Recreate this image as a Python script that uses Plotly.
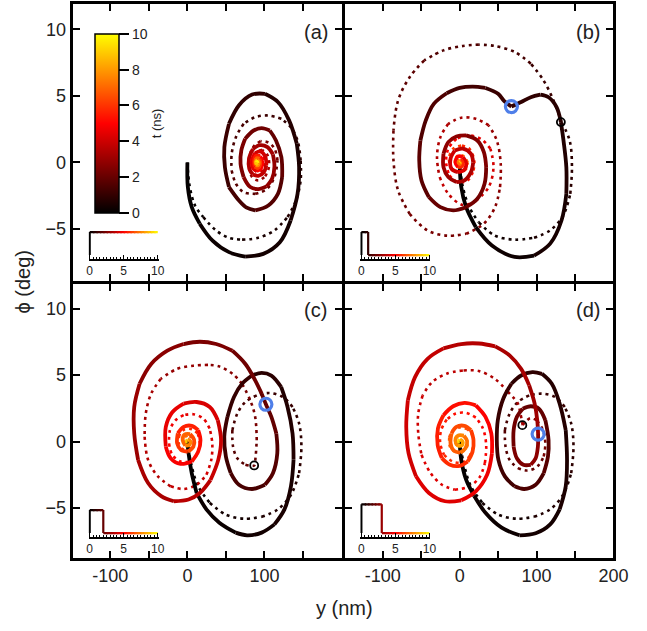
import plotly.graph_objects as go

FONT = "Liberation Sans, Arial, sans-serif"

# ---------------- data (y [nm], phi [deg], t [ns]) ----------------
A_SOLID = [(0,0,0),(0.6,-1.85,0.06),(5.7,-3.36,0.12),(16,-4.6,0.17),(33,-5.9,0.22),(54,-6.74,0.26),(75,-7.07,0.3),
    (98.5,-6.87,0.35),(120,-6.0,0.4),(134,-4.36,0.45),(143,-2.36,0.5),(145,-0.35,0.55),(142,1.4,0.6),(132,3.16,0.67),
    (117.5,4.54,0.75),(100.6,5.16,0.82),(84,5.1,0.9),(67,4.3,0.97),(54,2.9,1.04),(48,1.15,1.11),(48.7,-0.35,1.18),
    (54,-1.85,1.26),(67,-2.86,1.34),(77,-3.4,1.42),(88,-3.6,1.5),(105,-3.23,1.6),(117.5,-2.36,1.7),(123,-1.1,1.8),
    (122,0.4,1.9),(115,1.65,2.0),(107,2.4,2.08),(96.4,2.58,2.16),(86,2.4,2.24),(75,1.78,2.32),(70,0.9,2.4),
    (69,-0.1,2.48),(73,-1.1,2.56),(81.6,-1.85,2.64),(92,-2.0,2.72),(102.7,-1.8,2.8),(110,-1.2,2.88),(113,-0.3,2.96),
    (111,0.6,3.05),(104,1.15,3.15),(94,1.3,3.25),(85,1.0,3.35),(80,0.3,3.45),(80.5,-0.5,3.55),(85,-0.9,3.65),
    (92,-1.0,3.75),(99,-0.75,3.85),(102.5,-0.2,3.95),(101,0.45,4.05),(95,0.82,4.15),(88,0.7,4.3),(84,0.2,4.45),
    (85,-0.4,4.6),(90,-0.65,4.75),(95.5,-0.45,4.9),(97,0.05,5.05),(94.5,0.45,5.2),(89.5,0.5,5.4),(86.5,0.1,5.6),
    (87.5,-0.3,5.8),(91.5,-0.42,6.0),(94.5,-0.1,6.2),(93.5,0.28,6.45),(90,0.32,6.7),(88,0.05,6.95),(89,-0.2,7.2),
    (91.5,-0.22,7.5),(92.5,0.05,7.8),(91,0.18,8.1),(89.2,0.05,8.5),(89.8,-0.1,8.9),(91,-0.05,9.3),(90.5,0.05,9.7),(90,0,10)]
A_DOT = [(0,0,0),(3,-1.8,0.07),(9.9,-3.23,0.13),(20.5,-4.1,0.19),(37,-5.1,0.26),(54,-5.66,0.33),(71,-5.8,0.4),
    (92,-5.66,0.47),(113,-5.1,0.55),(130,-4.1,0.63),(141,-2.86,0.7),(147,-1.35,0.77),(147,0.15,0.84),(143,1.65,0.91),
    (134,2.66,0.99),(122,3.28,1.07),(105,3.53,1.16),(88,3.4,1.25),(73,2.9,1.33),(63,1.9,1.41),(57.5,0.65,1.49),
    (57.5,-0.6,1.57),(63,-1.6,1.65),(73,-2.23,1.74),(88,-2.36,1.84),(103,-2.0,1.94),(113,-1.1,2.04),(117,0.15,2.14),
    (113,1.05,2.24),(105,1.5,2.34),(95,1.6,2.44),(86,1.2,2.55),(80.5,0.45,2.66),(80,-0.4,2.77),(84,-1.1,2.88),
    (92,-1.35,2.99),(101,-1.05,3.1),(106,-0.3,3.21),(104,0.55,3.33),(97,0.95,3.45),(89,0.75,3.58),(85,0.1,3.72),
    (87,-0.55,3.86),(93,-0.75,4.0),(99,-0.4,4.15),(100,0.2,4.3),(96,0.55,4.5),(90,0.4,4.7),(88,-0.05,4.9),
    (91,-0.4,5.15),(96,-0.2,5.4),(96,0.25,5.7),(92,0.3,6.0),(90,0,6.4),(92,-0.2,6.9),(94,0,7.4),(92,0.12,8.0),
    (91.5,0,8.8),(92,0,10)]

B_SOLID = [(0,0,0),(2.1,-1.85,0.05),(8.4,-3.36,0.1),(21,-4.86,0.16),(42,-6.24,0.23),(71.5,-7.1,0.3),(96.7,-7.0,0.36),
    (117.7,-6.1,0.42),(132.4,-4.36,0.48),(138.7,-2.36,0.54),(138.7,-0.35,0.6),(135,1.65,0.66),(131.6,3.03,0.71),
    (126,4.16,0.76),(115.6,4.9,0.81),(105,5.09,0.86),(92.5,4.9,0.91),(80,4.54,0.95),(67.3,4.2,1.0),(58,4.6,1.06),
    (50,5.16,1.11),(33.6,5.6,1.19),(16.8,5.7,1.27),(0,5.6,1.35),(-16.8,5.2,1.43),(-33.6,4.4,1.51),(-44,3.16,1.59),
    (-51,1.65,1.67),(-52.5,0.15,1.75),(-49.6,-1.35,1.83),(-40,-2.6,1.91),(-25,-3.36,1.99),(-8.4,-3.6,2.07),
    (8.4,-3.36,2.15),(23,-2.73,2.23),(32.4,-1.6,2.31),(34.5,-0.35,2.39),(31.5,0.78,2.47),(23,1.65,2.55),
    (8.4,2.03,2.65),(-4.2,1.95,2.74),(-14.7,1.53,2.83),(-21,0.65,2.92),(-21,-0.35,3.01),(-14.7,-1.1,3.1),
    (-4.2,-1.48,3.2),(6.3,-1.35,3.3),(14.7,-0.73,3.4),(17.6,0,3.5),(14.7,0.65,3.6),(4.2,1.03,3.72),(-6.3,0.9,3.84),
    (-11.8,0.28,3.96),(-10.5,-0.48,4.08),(-2.1,-0.73,4.2),(6.3,-0.55,4.35),(8.4,-0.05,4.5),(4.2,0.4,4.7),
    (-2.1,0.45,4.9),(-5.5,0,5.1),(-2.1,-0.35,5.35),(2.9,-0.28,5.6),(3.5,0.05,5.9),(0.5,0.2,6.3),(-1.5,0,6.8),
    (0.5,-0.12,7.4),(1,0.05,8.2),(0,0,10)]
B_DOT = [(0,0,0),(4.2,-1.85,0.07),(12.6,-3.36,0.14),(25,-4.5,0.21),(46,-5.5,0.29),(71.5,-5.8,0.37),(96.7,-5.66,0.45),
    (117.7,-5.1,0.53),(134.5,-4.0,0.61),(143.8,-2.36,0.69),(146,-0.35,0.77),(143,1.65,0.86),(132.4,3.03,1.0),
    (122,4.66,1.08),(109,6.17,1.16),(92.5,7.42,1.24),(71.5,8.3,1.32),(46,8.75,1.4),(25,8.85,1.47),(4.2,8.75,1.54),
    (-21,8.42,1.62),(-46,7.67,1.7),(-65,6.4,1.78),(-80,4.66,1.86),(-86,2.4,1.95),(-86,0.15,2.04),(-80,-2.1,2.13),
    (-65,-3.86,2.22),(-42,-5.1,2.31),(-16.8,-5.5,2.4),(8.4,-5.36,2.49),(31.5,-4.6,2.58),(46,-3.36,2.67),
    (52.5,-1.85,2.76),(53.4,-0.1,2.85),(48.3,1.65,2.95),(37.8,2.78,3.05),(21,3.28,3.15),(2.1,3.36,3.25),
    (-14.7,2.9,3.35),(-25,1.9,3.45),(-29.4,0.4,3.55),(-26,-1.1,3.65),(-14.7,-2.36,3.75),(4.2,-3.2,3.87),
    (21,-2.9,3.99),(37.8,-1.85,4.11),(44,-0.35,4.23),(40,1.03,4.35),(27.3,1.78,4.47),(10.5,2.03,4.6),
    (-4.2,1.78,4.73),(-14.7,1.03,4.86),(-17.6,0,4.99),(-13.4,-0.98,5.12),(-2.1,-1.48,5.25),(10.5,-1.35,5.38),
    (18,-0.6,5.51),(19,0.15,5.64),(12.6,1.03,5.78),(2.1,1.28,5.92),(-8.4,1.03,6.06),(-13.9,0.28,6.2),
    (-10.5,-0.48,6.35),(0,-0.73,6.5),(8.4,-0.48,6.65),(10.5,0,6.8),(5.5,0.48,6.97),(-2.1,0.53,7.14),
    (-6.3,0.15,7.32),(-4.2,-0.28,7.5),(2.1,-0.35,7.7),(4.2,0,7.95),(0.8,0.15,8.3),(0,0,10)]

C_SOLID = [(0,0,0),(1.5,-0.88,0.03),(5.7,-2.4,0.08),(12,-3.87,0.13),(24.7,-5.1,0.18),(41.5,-6.1,0.23),(62.7,-6.85,0.28),
    (77.4,-7.05,0.32),(96.4,-6.85,0.37),(113,-6.23,0.42),(126,-5.1,0.47),(134.4,-3.37,0.52),(137.8,-1.38,0.57),
    (136.5,0.6,0.62),(130,2.6,0.68),(121.7,4.1,0.74),(109,4.96,0.8),(96.4,5.16,0.86),(83.8,4.96,0.92),(71,4.34,0.98),
    (60.5,3.35,1.04),(52,1.85,1.1),(47.9,0.36,1.16),(50,-1.13,1.23),(56.3,-2.38,1.3),(66.9,-3.25,1.37),
    (83.8,-3.57,1.45),(100.6,-3.25,1.53),(111,-2.38,1.61),(116.7,-0.88,1.7),(115.4,0.61,1.79),(109,1.85,1.88),
    (101.9,2.8,2.0),(96.4,3.6,2.06),(88,4.6,2.13),(75.3,5.83,2.21),(58.4,6.83,2.3),(37.3,7.33,2.39),(16.2,7.5,2.48),
    (-4.9,7.33,2.57),(-26,6.83,2.66),(-47,5.83,2.76),(-62,4.34,2.86),(-69,2.6,2.96),(-69,0.61,3.06),(-64,-1.38,3.16),
    (-51,-3.12,3.27),(-34,-4.1,3.37),(-17.5,-4.49,3.47),(1.5,-4.36,3.57),(16.2,-3.87,3.67),(30,-2.9,3.77),
    (40,-1.4,3.87),(43.7,0.1,3.97),(39.5,1.6,4.07),(29,2.6,4.17),(12,2.97,4.28),(-4.9,2.85,4.39),(-19.6,2.2,4.5),
    (-28,1.1,4.61),(-28,-0.39,4.72),(-21.7,-1.25,4.83),(-9,-1.68,4.94),(5.7,-1.5,5.06),(14,-0.76,5.18),(17,0.1,5.3),
    (14,0.86,5.42),(5.7,1.18,5.55),(-4.9,1.1,5.68),(-12.4,0.61,5.81),(-13.3,-0.14,5.94),(-8.2,-0.63,6.08),
    (0.6,-0.76,6.22),(7.8,-0.39,6.36),(8.6,0.16,6.5),(3.6,0.56,6.66),(-3.6,0.53,6.82),(-6.1,0.11,7.0),
    (-2.7,-0.31,7.2),(2.7,-0.26,7.42),(3.6,0.04,7.66),(0.2,0.16,8.0),(-1,0,8.6),(0,0,10)]
C_DOT = [(0,0,0),(5.7,-1.88,0.08),(14,-3.37,0.16),(29,-4.6,0.24),(50,-5.5,0.33),(73,-5.8,0.42),(96.4,-5.66,0.5),
    (117.5,-5.1,0.58),(134.4,-4.0,0.66),(145,-2.38,0.74),(148,-0.39,0.82),(145,1.36,0.9),(136.5,2.6,0.98),
    (123.8,3.35,1.06),(107,3.65,1.14),(90,3.47,1.23),(75.3,2.97,1.32),(64.8,2.1,1.41),(58.4,0.86,1.5),
    (59.3,-0.39,1.6),(64.8,-1.26,1.7),(75.3,-1.75,1.82),(86.7,-1.8,2.0),(88.3,-1.3,2.08),(90,0.1,2.2),
    (88,1.85,2.32),(81.6,3.1,2.42),(71,4.34,2.52),(58.4,5.1,2.62),(41.5,5.65,2.72),(26.8,5.76,2.8),(7.8,5.7,2.9),
    (-13.3,5.46,3.0),(-34.4,4.72,3.1),(-47,3.6,3.2),(-54,2.1,3.3),(-55.5,0.36,3.4),(-51,-1.38,3.5),(-38.6,-2.6,3.6),
    (-21.7,-3.37,3.7),(-4.9,-3.57,3.8),(12,-3.25,3.9),(24.7,-2.5,4.0),(31,-1.38,4.1),(32.3,-0.14,4.2),
    (28.9,0.98,4.3),(20.5,1.73,4.4),(7.8,2.05,4.5),(-4.9,1.98,4.6),(-15.4,1.6,4.7),(-22.6,0.86,4.8),
    (-23.8,-0.14,4.9),(-19.6,-1.0,5.0),(-9,-1.5,5.1),(3.6,-1.5,5.2),(12,-1.0,5.3),(16.2,-0.14,5.4),(13.3,0.61,5.52),
    (5.7,0.93,5.64),(-4,0.9,5.76),(-10.3,0.49,5.88),(-11.2,-0.14,6.0),(-5.7,-0.58,6.14),(2.7,-0.63,6.28),
    (7.8,-0.26,6.42),(6.5,0.24,6.58),(0.2,0.44,6.76),(-4.9,0.24,6.94),(-4,-0.14,7.14),(1.5,-0.21,7.36),
    (3.6,0.04,7.6),(0,0.1,8.0),(0,0,10)]

D_SOLID = [(0,0,0),(2.1,-1.38,0.05),(8.4,-2.87,0.1),(19,-4.1,0.15),(33.6,-5.36,0.2),(54.6,-6.48,0.26),(77.8,-7.05,0.32),
    (98.8,-6.9,0.37),(117.7,-6.23,0.42),(130,-5.1,0.47),(137.9,-3.37,0.52),(139.6,-1.38,0.57),(137.9,0.86,0.63),
    (130,2.85,0.69),(119.8,4.34,0.75),(107,5.09,0.81),(94.6,5.21,0.87),(79.9,4.96,0.93),(67.3,4.34,0.99),
    (56.7,3.22,1.05),(49.6,1.6,1.11),(48.3,0.11,1.17),(50.4,-1.38,1.23),(58.8,-2.62,1.3),(71.5,-3.37,1.37),
    (84,-3.57,1.44),(98.8,-3.25,1.52),(109.3,-2.38,1.6),(114.8,-1.13,1.68),(115.6,0.11,1.76),(111.4,1.6,1.84),
    (103,2.47,1.92),(92.5,2.65,2.0),(82,2.47,2.08),(74.4,1.85,2.16),(70.2,0.86,2.24),(70.2,-0.39,2.32),
    (74.4,-1.26,2.4),(82.8,-1.75,2.5),(92.5,-1.75,2.6),(98.8,-1.26,2.7),(101.7,-0.39,2.82),(102,0.56,3.0),
    (100.9,1.6,3.06),(97.5,2.85,3.12),(90.4,4.22,3.19),(79.9,5.46,3.26),(65.2,6.46,3.34),(46.2,7.15,3.42),
    (25.2,7.37,3.5),(2.1,7.33,3.59),(-21,7.0,3.68),(-42,6.2,3.77),(-58,4.84,3.86),(-67.3,3.1,3.95),(-69.4,1.1,4.04),
    (-66.4,-0.88,4.13),(-56.7,-2.62,4.22),(-39.9,-3.87,4.31),(-18.9,-4.49,4.4),(2.1,-4.42,4.5),(21,-3.74,4.6),
    (35.7,-2.5,4.7),(42,-0.88,4.8),(41.2,0.61,4.9),(33.6,1.85,5.0),(21,2.72,5.1),(6.3,2.9,5.2),(-8.4,2.65,5.3),
    (-21,1.98,5.4),(-28.2,0.98,5.5),(-28.6,-0.26,5.6),(-23.1,-1.25,5.7),(-12.6,-1.75,5.8),(0,-1.83,5.9),
    (10.5,-1.5,6.0),(16.8,-0.76,6.1),(18,0.11,6.2),(14.7,0.86,6.3),(6.3,1.18,6.4),(-4.2,1.1,6.5),(-10.5,0.61,6.62),
    (-11.8,-0.14,6.74),(-7.6,-0.68,6.86),(0.8,-0.83,6.98),(7.6,-0.51,7.1),(9.7,0.04,7.24),(5.5,0.44,7.38),
    (-2.1,0.44,7.52),(-5.5,0.06,7.68),(-2.5,-0.31,7.86),(2.9,-0.29,8.06),(3.8,0.01,8.3),(0.4,0.16,8.6),(-1,0,9.0),(0,0,10)]
D_DOT = [(0,0,0),(6.3,-1.88,0.08),(14.7,-3.37,0.16),(29.4,-4.6,0.24),(50.4,-5.5,0.33),(73.6,-5.8,0.42),(96.7,-5.66,0.5),
    (117.7,-5.1,0.58),(134.5,-4.0,0.66),(145,-2.38,0.74),(148,-0.39,0.82),(145,1.36,0.9),(136.6,2.6,0.98),
    (124,3.35,1.06),(107,3.6,1.14),(90.4,3.47,1.23),(75.7,2.97,1.32),(65,2.1,1.41),(58.8,0.86,1.5),(59.7,-0.39,1.6),
    (65,-1.38,1.7),(75.7,-2.0,1.8),(88.3,-2.18,1.92),(101,-1.88,2.04),(109.3,-1.13,2.16),(111.4,-0.14,2.28),
    (108,0.9,2.4),(100,1.6,2.52),(92,1.75,2.64),(85,1.45,2.8),(82,1.23,3.0),(79,2.1,3.1),(75.7,2.85,3.18),
    (63,3.72,3.28),(46,4.7,3.38),(25,5.3,3.48),(4.2,5.34,3.58),(-16.8,5.1,3.68),(-35.7,4.47,3.78),(-48,3.47,3.88),
    (-53.8,2.1,3.98),(-53.8,0.61,4.08),(-49.6,-1.0,4.18),(-37.8,-2.37,4.28),(-23,-3.25,4.38),(-6.3,-3.62,4.48),
    (10.5,-3.42,4.58),(25.2,-2.75,4.68),(32.8,-1.63,4.78),(34.5,-0.26,4.88),(30.3,0.98,4.98),(21,1.8,5.08),
    (8.4,2.15,5.18),(-5,2.1,5.28),(-16.8,1.65,5.38),(-24,0.86,5.48),(-25.2,-0.14,5.58),(-20.2,-1.0,5.68),
    (-9.2,-1.5,5.78),(3.4,-1.58,5.88),(12.6,-1.13,5.98),(17.7,-0.39,6.08),(16.8,0.41,6.2),(10.5,0.91,6.32),
    (0.8,1.06,6.44),(-8.4,0.86,6.56),(-13.5,0.31,6.68),(-12.6,-0.39,6.8),(-6.3,-0.76,6.92),(2.9,-0.81,7.04),
    (9.2,-0.46,7.16),(10,0.04,7.3),(5,0.41,7.44),(-2.1,0.46,7.58),(-6.3,0.11,7.74),(-4.2,-0.29,7.9),(2.1,-0.36,8.08),
    (4.2,-0.06,8.3),(0.8,0.09,8.6),(0,0,10)]

# positions at the end of the pulse (blue: solid curve, black: dotted curve)
BLUE_Y = {"b": 67.3, "c": 101.9, "d": 102.0}
BLUE_PHI = {"b": 4.2, "c": 2.8, "d": 0.56}
BLACK_Y = {"b": 131.6, "c": 86.7, "d": 81.5}
BLACK_PHI = {"b": 3.03, "c": -1.8, "d": 1.23}

# current pulses drawn in the insets (time in ns, relative amplitude)
PULSE_T = {"a": [0, 0, 10], "b": [0, 0, 1, 1, 10], "c": [0, 0, 2, 2, 10], "d": [0, 0, 3, 3, 10]}
PULSE_I = {"a": [0, 1, 1], "b": [0, 1, 1, 0, 0], "c": [0, 1, 1, 0, 0], "d": [0, 1.25, 1.25, 0, 0]}

PANEL_LABELS = ["(a)", "(b)", "(c)", "(d)"]
X_TICKS_L = [-100, -50, 0, 50, 100, 150]
X_TICKS_R = [-100, -50, 0, 50, 100, 150, 200]
Y_TICKS = [-5, 0, 5, 10]
CB_TICKS = [0, 2, 4, 6, 8, 10]
T_MAX = 10.0

# ---------------- helpers ----------------
def hot(t):
    f = min(max(t / T_MAX, 0.0), 1.0)
    if f <= 0.5:
        r, g = 255 * f / 0.5, 0
    else:
        r, g = 255, 255 * (f - 0.5) / 0.5
    return "rgb(%d,%d,0)" % (round(r), round(g))

COLORSCALE = [[0, "rgb(0,0,0)"], [0.5, "rgb(255,0,0)"], [1, "rgb(255,255,0)"]]

fig = go.Figure()

def add_path(pts, xa, ya, dotted):
    n = len(pts)
    step = 3
    i = 0
    while i < n - 1:
        j = min(i + step, n - 1)
        seg = pts[i:j + 1]
        tm = sum(p[2] for p in seg) / len(seg)
        fig.add_trace(go.Scatter(
            x=[p[0] for p in seg], y=[p[1] for p in seg], mode="lines",
            line=dict(color=hot(tm), width=2.6 if dotted else 3.8,
                      dash="3px,4px" if dotted else "solid", shape="spline", smoothing=1.0),
            xaxis=xa, yaxis=ya, hoverinfo="skip", showlegend=False))
        i = j

def add_pulse(ts, cur, xa, ya):
    for k in range(len(ts) - 1):
        t0, t1, i0, i1 = ts[k], ts[k + 1], cur[k], cur[k + 1]
        if t1 == t0:
            pieces = [(t0, t1, i0, i1, t0)]
        else:
            # colour gradient along the flat part of the pulse (pieces overlap slightly to avoid seams)
            m = max(1, int(round((t1 - t0) / 0.5)))
            d = (t1 - t0) / m
            pieces = [(t0 + q * d, min(t1, t0 + (q + 1) * d + 0.2), i0, i1, t0 + (q + 0.5) * d) for q in range(m)]
        for (a0, a1, c0, c1, tc) in pieces:
            fig.add_trace(go.Scatter(x=[a0, a1], y=[c0, c1], mode="lines",
                                     line=dict(color=hot(tc), width=2.2),
                                     xaxis=xa, yaxis=ya, hoverinfo="skip", showlegend=False))

panels = [("a", A_SOLID, A_DOT, "x", "y", "x5", "y5"),
          ("b", B_SOLID, B_DOT, "x2", "y2", "x6", "y6"),
          ("c", C_SOLID, C_DOT, "x3", "y3", "x7", "y7"),
          ("d", D_SOLID, D_DOT, "x4", "y4", "x8", "y8")]

for key, solid, dot, xa, ya, ixa, iya in panels:
    add_path(dot, xa, ya, True)
    add_path(solid, xa, ya, False)
    if key in BLUE_Y:
        fig.add_trace(go.Scatter(x=[BLACK_Y[key]], y=[BLACK_PHI[key]], mode="markers",
                                 marker=dict(symbol="circle-open", size=8, color="black", line=dict(width=1.8, color="black")),
                                 xaxis=xa, yaxis=ya, hoverinfo="skip", showlegend=False))
        fig.add_trace(go.Scatter(x=[BLUE_Y[key]], y=[BLUE_PHI[key]], mode="markers",
                                 marker=dict(symbol="circle-open", size=12, color="#4f7fe9", line=dict(width=3.2, color="#4f7fe9")),
                                 xaxis=xa, yaxis=ya, hoverinfo="skip", showlegend=False))
    add_pulse(PULSE_T[key], PULSE_I[key], ixa, iya)

W, H = 647, 631

# colour bar (carried by an invisible trace)
fig.add_trace(go.Scatter(x=[None], y=[None], mode="markers", xaxis="x", yaxis="y", showlegend=False,
                         marker=dict(color=[0, T_MAX], cmin=0, cmax=T_MAX, colorscale=COLORSCALE, showscale=True,
                                     colorbar=dict(x=95.5 / W, xanchor="left", xpad=0, ypad=0,
                                                   y=1 - 123.3 / H, yanchor="middle", len=178.7 / H, lenmode="fraction",
                                                   thickness=23.5, thicknessmode="pixels",
                                                   outlinewidth=1.5, outlinecolor="black",
                                                   ticks="outside", ticklen=10, tickwidth=1.5, tickcolor="black",
                                                   tickvals=CB_TICKS, tickfont=dict(size=14, family=FONT, color="#222")))))

# ---------------- layout ----------------
XL = [72.5 / W, 349.5 / W]
XR = [352.5 / W, 628 / W]
YT = [1 - 280.5 / H, 1 - 4.2 / H]
YB = [1 - 557.5 / H, 1 - 283.5 / H]

axis_common = dict(showline=True, linewidth=3, linecolor="black", mirror="ticks", ticks="inside",
                   ticklen=7, tickwidth=2.2, tickcolor="black", showgrid=False, zeroline=False,
                   tickfont=dict(size=18, family=FONT, color="#222"))

def xt_text(vals, labels):
    return [str(v) if v in labels else "" for v in vals]

layout = dict(
    width=W, height=H, margin=dict(l=0, r=0, t=0, b=0),
    paper_bgcolor="white", plot_bgcolor="rgba(0,0,0,0)", showlegend=False,
    font=dict(family=FONT, color="#222"),
    xaxis=dict(axis_common, domain=XL, range=[-149, 201.1], anchor="y", tickvals=X_TICKS_L, showticklabels=False),
    xaxis2=dict(axis_common, domain=XR, range=[-148.7, 200], anchor="y2", tickvals=X_TICKS_R, showticklabels=False),
    xaxis3=dict(axis_common, domain=XL, range=[-149, 201.1], anchor="y3", tickvals=X_TICKS_L,
                ticktext=xt_text(X_TICKS_L, [-100, 0, 100])),
    xaxis4=dict(axis_common, domain=XR, range=[-148.7, 200], anchor="y4", tickvals=X_TICKS_R,
                ticktext=xt_text(X_TICKS_R, [-100, 0, 100, 200])),
    yaxis=dict(axis_common, domain=YT, range=[-8.87, 11.89], anchor="x", tickvals=Y_TICKS),
    yaxis2=dict(axis_common, domain=YT, range=[-8.87, 11.89], anchor="x2", tickvals=Y_TICKS, showticklabels=False),
    yaxis3=dict(axis_common, domain=YB, range=[-8.72, 11.88], anchor="x3", tickvals=Y_TICKS),
    yaxis4=dict(axis_common, domain=YB, range=[-8.72, 11.88], anchor="x4", tickvals=Y_TICKS, showticklabels=False),
)

inset_x = dict(showline=True, linewidth=1.5, linecolor="black", ticks="inside", ticklen=4, tickwidth=1.2,
               tickcolor="black", tick0=0, dtick=5, range=[-0.15, 10.15], showgrid=False, zeroline=False,
               minor=dict(dtick=0.5, ticklen=2.5, tickwidth=1, ticks="inside", tickcolor="black"),
               tickfont=dict(size=12, family=FONT, color="#222"))
inset_y = dict(visible=False, range=[-0.17, 1.35], showgrid=False, zeroline=False)
IXL = [89 / W, 161 / W]
IXR = [368 / W, 440 / W]
IYT = [1 - 259 / H, 1 - 224 / H]
IYB = [1 - 537 / H, 1 - 502 / H]
for n, xd, yd in [(5, IXL, IYT), (6, IXR, IYT), (7, IXL, IYB), (8, IXR, IYB)]:
    layout["xaxis%d" % n] = dict(inset_x, domain=xd, anchor="y%d" % n)
    layout["yaxis%d" % n] = dict(inset_y, domain=yd, anchor="x%d" % n)

ann = []
for lab, (px, py) in zip(PANEL_LABELS, [(322, 32), (602, 32), (322, 310), (602, 310)]):
    ann.append(dict(text=lab, x=px / W, y=1 - py / H, xref="paper", yref="paper", showarrow=False,
                    font=dict(size=20, family=FONT, color="#222"), xanchor="center", yanchor="middle"))
ann.append(dict(text="ϕ (deg)", x=22 / W, y=1 - 282 / H, xref="paper", yref="paper", showarrow=False,
                textangle=-90, font=dict(size=20, family=FONT, color="#222"), xanchor="center", yanchor="middle"))
ann.append(dict(text="y (nm)", x=352 / W, y=1 - 608 / H, xref="paper", yref="paper", showarrow=False,
                font=dict(size=20, family=FONT, color="#222"), xanchor="center", yanchor="middle"))
# colour-bar title
ann.append(dict(text="t (ns)", x=158.5 / W, y=1 - 123 / H, xref="paper", yref="paper", showarrow=False,
                textangle=-90, font=dict(size=13, family=FONT, color="#222"), xanchor="center", yanchor="middle"))
layout["annotations"] = ann

fig.update_layout(**layout)
fig.write_html("out.html", config={"displayModeBar": False},
               post_script="document.body.style.margin='0px';document.body.style.overflow='hidden';")
